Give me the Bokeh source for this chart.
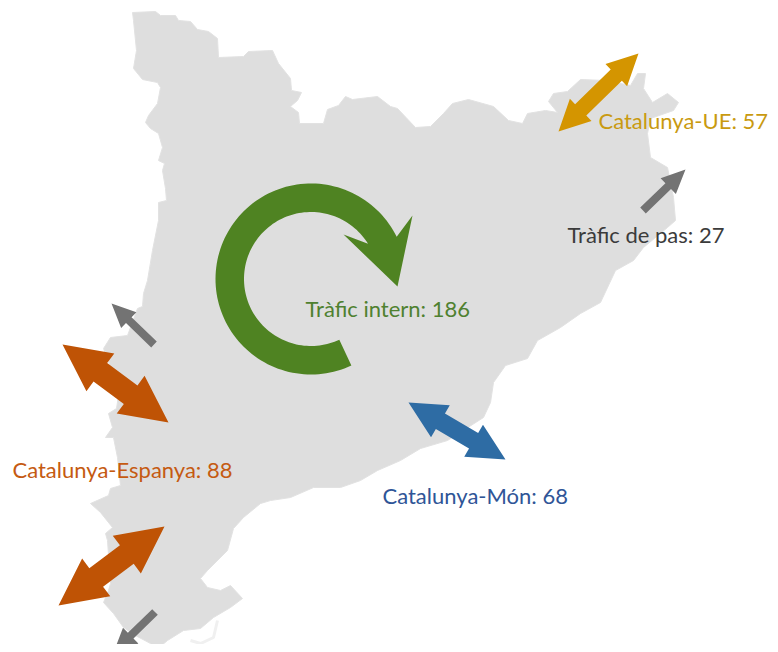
import numpy as np
from bokeh.embed import file_html
from bokeh.models import ColumnDataSource, Range1d
from bokeh.plotting import figure
from bokeh.resources import INLINE

# Map outline
outline_x = [132,155,160,175,178,190,197,208,217,218,243,248,272,278,290,291,301,297,290,298,299,323,327,338,345,352,377,390,
             397,415,430,443,452,468,493,508,522,527,545,557,548,553,567,580,605,630,637,645,643,652,667,678,673,650,647,650,667,673,675,667,643,633,615,600,
             580,560,537,527,505,493,490,483,447,420,400,377,360,340,313,290,270,
             260,243,233,227,207,200,207,220,230,242,230,213,200,183,167,155,150,135,123,113,103,
             108,110,107,105,112,100,90,108,110,120,117,113,105,112,108,116,118,112,103,110,127,137,142,143,147,
             152,158,158,166,165,162,164,158,162,158,150,145,148,157,160,157,142,133,136,133]
outline_y = [12,11,15,15,20,21,29,31,38,57,56,51,50,63,78,90,92,100,106,112,123,123,109,105,96,99,96,106,
             108,127,126,113,103,99,106,120,123,113,110,112,101,93,91,79,80,85,73,73,88,102,93,102,110,118,133,157,167,197,220,227,247,260,270,302,
             313,327,340,358,365,382,402,417,440,448,460,470,480,487,487,497,500,
             503,517,528,550,570,578,587,590,585,598,607,617,628,630,640,650,643,635,627,613,602,
             590,583,540,533,527,512,503,495,488,485,457,437,437,427,413,408,395,372,348,337,335,308,306,293,280,
             250,220,202,200,188,170,163,160,147,133,128,122,115,103,87,82,79,68,50,20]

# Faint spit of the delta
spit_x = [217,213,200,190]
spit_y = [620,637,643,640]

# Flows
flow_names = ["Catalunya-UE", "Tràfic de pas", "Tràfic intern", "Catalunya-Espanya", "Catalunya-Món"]
flow_values = [57, 27, 186, 88, 68]
label_x = [598, 567, 305, 12, 382]
label_y = [120, 234, 308, 469, 495]
label_colors = ["#C99A10", "#3B3B3B", "#4F8130", "#C55A11", "#2F5597"]

# Double arrows: tip a, tip b, head length, head width, shaft width, colour
double_a_x = [638, 62, 164, 408]
double_a_y = [53, 344, 526, 402]
double_b_x = [558, 168, 58, 505]
double_b_y = [131, 422, 605, 459]
double_head_len = [31, 47, 47, 37]
double_head_w = [31, 47, 47, 37]
double_shaft_w = [16, 23, 23, 18]
double_colors = ["#D49500", "#BF5305", "#BF5305", "#2E6CA4"]

# Single grey arrows: tail, tip
single_tail_x = [642.5, 153.5, 154.5]
single_tail_y = [210, 344, 611.5]
single_tip_x = [685, 111, 113]
single_tip_y = [169, 303, 652]
single_head_len = 24
single_head_w = 22
single_shaft_w = 8
GREY = "#737373"

# Circular arrow
ring_cx, ring_cy = 310.5, 278.5
ring_inner, ring_outer = 67, 95.5
ring_start_deg = 65
ring_outer_end_deg = 360 - 26.2
ring_inner_end_deg = 360 - 31.7
ring_head_x = [412, 397, 343]
ring_head_y = [215, 286, 234]
GREEN = "#4F8322"


def double_arrow(ax, ay, bx, by, hl, hw, sw):
    a, b = np.array([ax, ay], float), np.array([bx, by], float)
    d = (b - a) / np.linalg.norm(b - a)
    n = np.array([-d[1], d[0]])
    a0, b0 = a + d * hl, b - d * hl
    pts = [a, a0 + n * hw / 2, a0 + n * sw / 2, b0 + n * sw / 2, b0 + n * hw / 2,
           b, b0 - n * hw / 2, b0 - n * sw / 2, a0 - n * sw / 2, a0 - n * hw / 2]
    return [float(q[0]) for q in pts], [float(q[1]) for q in pts]


def single_arrow(tx, ty, px, py, hl, hw, sw):
    t, q = np.array([tx, ty], float), np.array([px, py], float)
    d = (q - t) / np.linalg.norm(q - t)
    n = np.array([-d[1], d[0]])
    q0 = q - d * hl
    pts = [t + n * sw / 2, q0 + n * sw / 2, q0 + n * hw / 2, q, q0 - n * hw / 2, q0 - n * sw / 2, t - n * sw / 2]
    return [float(r[0]) for r in pts], [float(r[1]) for r in pts]


def curved_arrow():
    outer = np.radians(np.linspace(ring_start_deg, ring_outer_end_deg, 120))
    inner = np.radians(np.linspace(ring_inner_end_deg, ring_start_deg, 120))
    xs = list(ring_cx + ring_outer * np.cos(outer))
    ys = list(ring_cy + ring_outer * np.sin(outer))
    xs += ring_head_x
    ys += ring_head_y
    xs += list(ring_cx + ring_inner * np.cos(inner))
    ys += list(ring_cy + ring_inner * np.sin(inner))
    return [float(v) for v in xs], [float(v) for v in ys]


p = figure(width=770, height=644, output_backend="svg", toolbar_location=None,
           x_range=Range1d(0, 770), y_range=Range1d(644, 0),
           x_axis_type=None, y_axis_type=None, min_border=0,
           outline_line_color=None, background_fill_color="white", border_fill_color="white")

p.patch(outline_x, outline_y, fill_color="#DEDEDE", line_color="#E2E2E2", line_width=1)
p.line(spit_x, spit_y, line_color="#F0F0F0", line_width=3)

cx, cy = curved_arrow()
p.patch(cx, cy, fill_color=GREEN, line_color=None)

dxs, dys = [], []
for i in range(len(double_a_x)):
    x, y = double_arrow(double_a_x[i], double_a_y[i], double_b_x[i], double_b_y[i],
                        double_head_len[i], double_head_w[i], double_shaft_w[i])
    dxs.append(x)
    dys.append(y)
p.patches(xs="xs", ys="ys", fill_color="color", line_color=None,
          source=ColumnDataSource(dict(xs=dxs, ys=dys, color=double_colors)))

sxs, sys_ = [], []
for i in range(len(single_tail_x)):
    x, y = single_arrow(single_tail_x[i], single_tail_y[i], single_tip_x[i], single_tip_y[i],
                        single_head_len, single_head_w, single_shaft_w)
    sxs.append(x)
    sys_.append(y)
p.patches(sxs, sys_, fill_color=GREY, line_color=None)

labels = [f"{n}: {v}" for n, v in zip(flow_names, flow_values)]
p.text(x="x", y="y", text="t", text_color="c", text_font_size="22px", text_font={"value": "Lato"},
       text_align="left", text_baseline="alphabetic",
       source=ColumnDataSource(dict(x=label_x, y=label_y, t=labels, c=label_colors)))

open("out.html", "w").write(file_html(p, INLINE))
